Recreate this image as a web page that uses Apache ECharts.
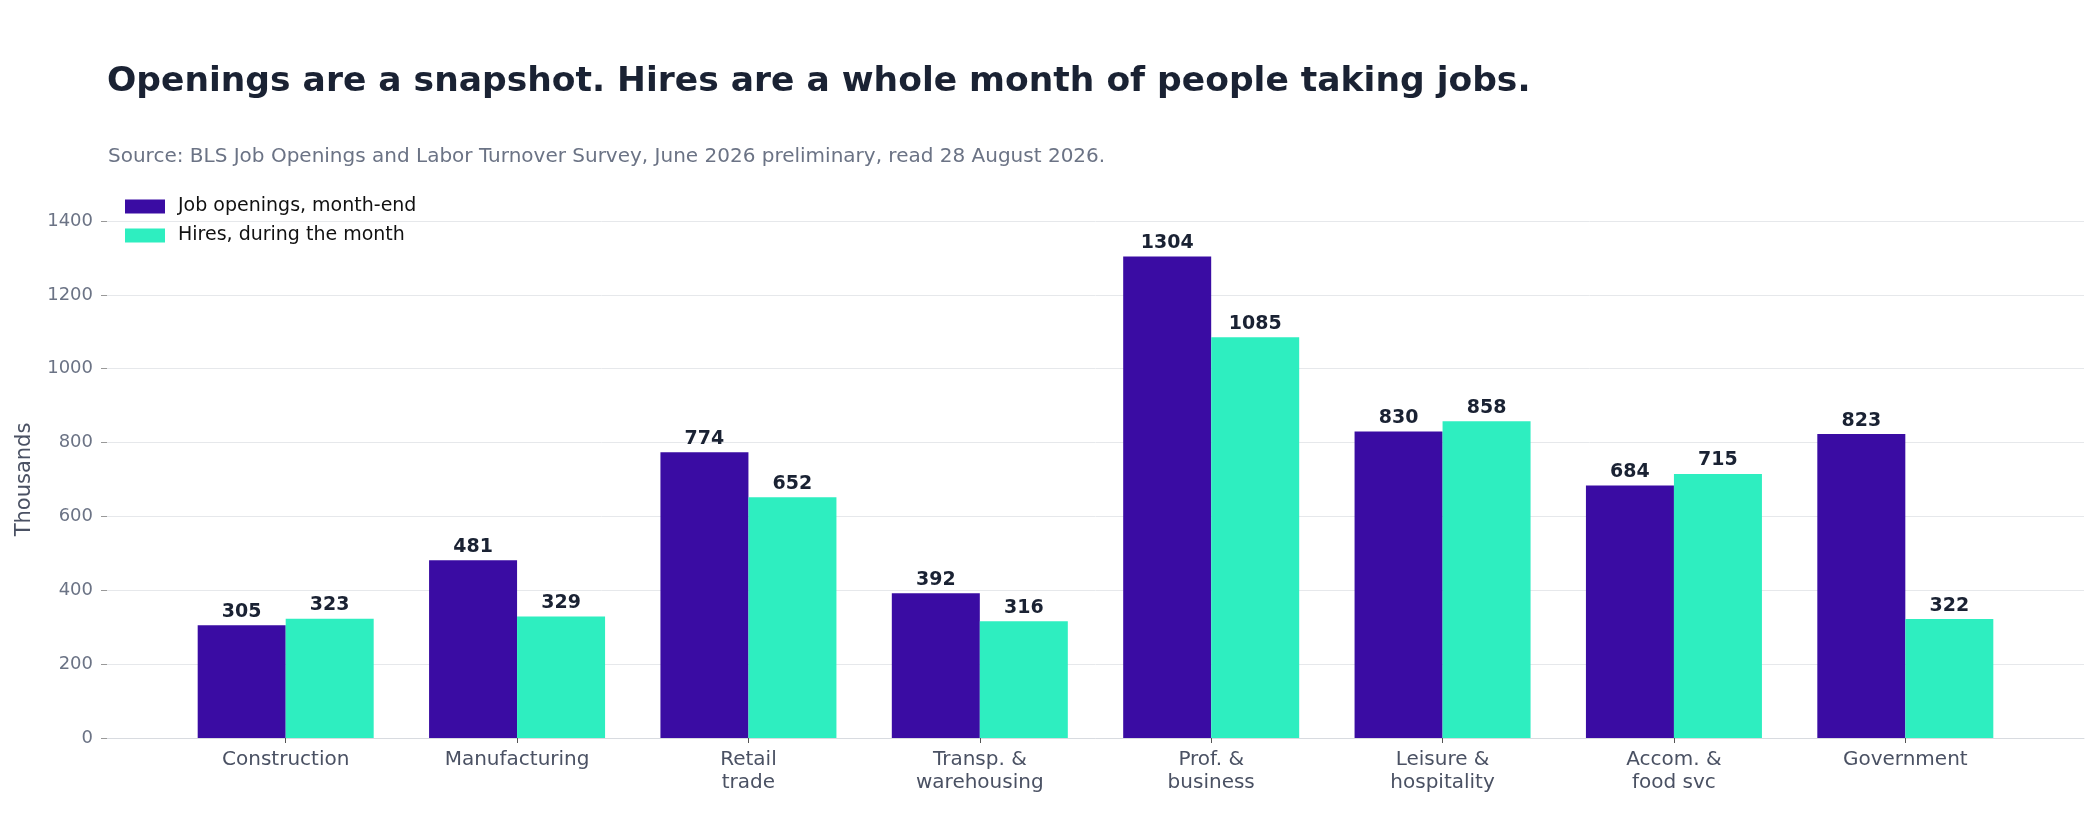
<!DOCTYPE html>
<html><head><meta charset="utf-8">
<script src="https://cdn.jsdelivr.net/npm/echarts@6/dist/echarts.min.js"></script>
<style>html,body{margin:0;padding:0;background:#fff}#c{width:2100px;height:820px}</style>
</head><body><div id="c"></div>
<script>
const categories = ["Construction","Manufacturing","Retail\ntrade","Transp. &\nwarehousing","Prof. &\nbusiness","Leisure &\nhospitality","Accom. &\nfood svc","Government"];
const openings = [305,481,774,392,1304,830,684,823];
const hires = [323,329,652,316,1085,858,715,322];
const yTicks = {min:0,max:1400,interval:200};
const chart = echarts.init(document.getElementById('c'));
const lbl = {show:true,position:'top',color:'#1a2233',fontWeight:'bold',fontSize:19,fontFamily:'DejaVu Sans',distance:4};
chart.setOption({
  animation:false,
  title:[{text:'Openings are a snapshot. Hires are a whole month of people taking jobs.',left:102,top:60,textStyle:{fontSize:34.5,fontWeight:'bold',color:'#1a2233',fontFamily:'DejaVu Sans'}},
         {text:'Source: BLS Job Openings and Labor Turnover Survey, June 2026 preliminary, read 28 August 2026.',left:103,top:142,textStyle:{fontSize:20,fontWeight:'normal',color:'#6b7385',fontFamily:'DejaVu Sans'}}],
  legend:{left:120,top:192,orient:'vertical',icon:'rect',itemWidth:40,itemHeight:14,itemGap:10,textStyle:{fontSize:19,color:'#111',fontFamily:'DejaVu Sans',padding:[0,0,0,8]},data:['Job openings, month-end','Hires, during the month']},
  grid:[{left:107,right:16,top:221,bottom:82},{left:170,right:79,top:221,bottom:82}],
  xAxis:[{type:'category',gridIndex:0,data:[''],axisLine:{lineStyle:{color:'#d8dbe0'}},axisTick:{show:false},axisLabel:{show:false}},
         {type:'category',gridIndex:1,data:categories,axisLine:{show:false},axisTick:{show:true,alignWithLabel:true,lineStyle:{color:'#555'}},axisLabel:{fontSize:20,color:'#4a5163',fontFamily:'DejaVu Sans',lineHeight:23,margin:10}}],
  yAxis:[{type:'value',gridIndex:0,min:yTicks.min,max:yTicks.max,interval:yTicks.interval,name:'Thousands',nameLocation:'middle',nameGap:72,nameTextStyle:{fontSize:21,color:'#4a5163',fontFamily:'DejaVu Sans'},axisLabel:{fontSize:18,color:'#6b7385',fontFamily:'DejaVu Sans',margin:14,formatter:v=>String(v)},axisTick:{show:true,length:6,lineStyle:{color:'#999'}},splitLine:{lineStyle:{color:'#e6e8eb'}}},
         {type:'value',gridIndex:1,min:yTicks.min,max:yTicks.max,interval:yTicks.interval,show:false,splitLine:{show:false}}],
  series:[
    {name:'Job openings, month-end',type:'bar',xAxisIndex:1,yAxisIndex:1,data:openings,barWidth:88,barGap:'0%',itemStyle:{color:'#3a0ca3'},label:lbl},
    {name:'Hires, during the month',type:'bar',xAxisIndex:1,yAxisIndex:1,data:hires,barWidth:88,itemStyle:{color:'#2eeec0'},label:lbl}
  ]
});
</script></body></html>
